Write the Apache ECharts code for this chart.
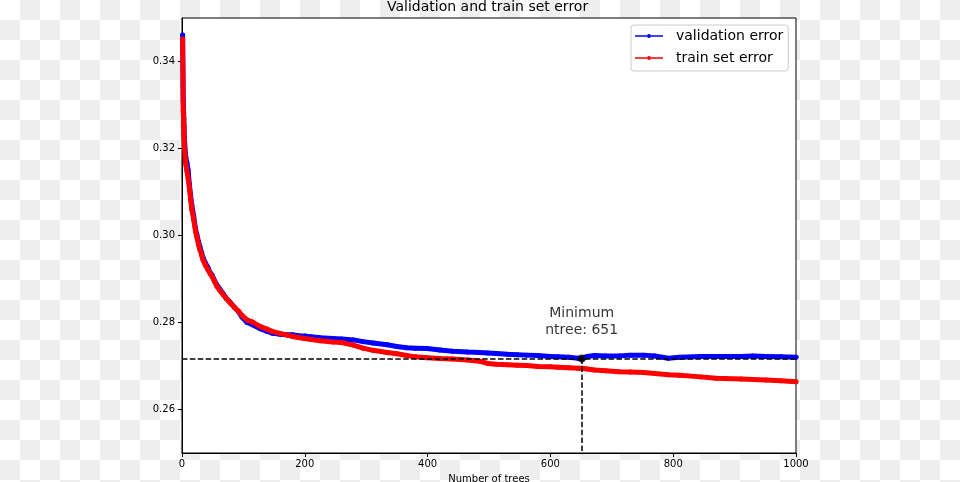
<!DOCTYPE html>
<html>
<head>
<meta charset="utf-8">
<script src="https://cdn.jsdelivr.net/npm/echarts@6/dist/echarts.min.js"></script>
<style>
  html, body { margin: 0; padding: 0; }
  body {
    width: 960px; height: 482px;
    background-color: #ffffff;
    background-image: conic-gradient(#eeeeee 0 25%, #ffffff 0 50%, #eeeeee 0 75%, #ffffff 0);
    background-size: 40px 40px;
  }
  #chart { width: 960px; height: 482px; }
</style>
</head>
<body>
<div id="chart"></div>
<script>
// ---- data ----
const trees = [1,2,3,4,6,8,10,12,14,16,19,22,24,27,29,32,34,38,42,46,49,53,57,62,67,72,78,86,92,98,106,115,127,138,148,160,171,180,192,200,210,225,246,260,279,295,311,334,350,366,380,399,420,441,465,485,498,512,530,546,562,579,600,612,630,645,651,660,672,690,712,730,752,770,792,810,845,870,911,930,951,975,1000];
const validationError = [0.3461,0.3310,0.3269,0.3221,0.3182,0.3167,0.3150,0.3118,0.3092,0.3070,0.3045,0.3015,0.3003,0.2985,0.2975,0.2960,0.2950,0.2937,0.2927,0.2914,0.2909,0.2896,0.2886,0.2876,0.2866,0.2856,0.2847,0.2834,0.2825,0.2812,0.2800,0.2795,0.2786,0.2780,0.2775,0.2773,0.2772,0.2772,0.2769,0.2769,0.2767,0.2765,0.2763,0.2762,0.2760,0.2756,0.2753,0.2749,0.2745,0.2742,0.2741,0.2740,0.2737,0.2734,0.2732,0.2731,0.2730,0.2729,0.2727,0.2726,0.2725,0.2724,0.2722,0.2721,0.2720,0.2718,0.2717,0.2722,0.2724,0.2723,0.2723,0.2725,0.2725,0.2723,0.2718,0.2720,0.2722,0.2722,0.2722,0.2723,0.2722,0.2721,0.2720];
const trainError = [0.3452,0.3287,0.3251,0.3202,0.3165,0.3148,0.3131,0.3110,0.3083,0.3060,0.3037,0.3010,0.2998,0.2978,0.2968,0.2955,0.2945,0.2932,0.2922,0.2912,0.2906,0.2894,0.2883,0.2873,0.2864,0.2855,0.2846,0.2834,0.2826,0.2816,0.2806,0.2801,0.2791,0.2785,0.2779,0.2775,0.2771,0.2768,0.2765,0.2763,0.2761,0.2758,0.2755,0.2754,0.2748,0.2741,0.2736,0.2731,0.2728,0.2724,0.2721,0.2719,0.2717,0.2716,0.2714,0.2711,0.2706,0.2704,0.2703,0.2702,0.2701,0.2699,0.2698,0.2697,0.2696,0.2695,0.2695,0.2693,0.2691,0.2689,0.2687,0.2686,0.2685,0.2683,0.2680,0.2679,0.2675,0.2672,0.2670,0.2669,0.2668,0.2666,0.2664];
const minTree = 651;
const minError = 0.2717;
const xTicks = [0, 200, 400, 600, 800, 1000];
const yTicks = [0.26, 0.28, 0.30, 0.32, 0.34];
const seriesNames = ['validation error', 'train set error'];
const titleText = 'Validation and train set error';
const xAxisName = 'Number of trees';
const annotationText = 'Minimum\nntree: ' + minTree;

// ---- chart ----
const FONT = 'DejaVu Sans';
const chart = echarts.init(document.getElementById('chart'), null, { renderer: 'canvas' });
const legendIcon = 'path://M0,1.2 L12,1.2 L12,2.8 L0,2.8 Z M16,1.2 L28,1.2 L28,2.8 L16,2.8 Z M12,2 A2,2 0 1,1 16,2 A2,2 0 1,1 12,2 Z';

const option = {
  animation: false,
  backgroundColor: 'transparent',
  textStyle: { fontFamily: FONT },
  title: {
    text: titleText,
    left: 387, top: 0, padding: 0,
    textStyle: { fontFamily: FONT, fontSize: 14, fontWeight: 'normal', color: '#000', lineHeight: 15 }
  },
  legend: {
    data: seriesNames.map(n => ({ name: n, icon: legendIcon })),
    orient: 'vertical',
    left: 631, top: 25,
    padding: [3, 5, 5, 4],
    itemGap: 6,
    itemWidth: 28, itemHeight: 4,
    backgroundColor: '#fff',
    borderColor: '#cccccc', borderWidth: 1, borderRadius: 3,
    textStyle: { fontFamily: FONT, fontSize: 14, color: '#000', lineHeight: 16, padding: [0, 0, 0, 8] }
  },
  grid: {
    left: 182, right: 164, top: 18, bottom: 29,
    outerBoundsMode: 'none', containLabel: false,
    show: true, backgroundColor: '#ffffff', borderColor: '#000', borderWidth: 1
  },
  xAxis: {
    type: 'value', min: 0, max: 1000, interval: 200,
    name: xAxisName, nameLocation: 'middle', nameGap: 21,
    nameTextStyle: { fontFamily: FONT, fontSize: 10, color: '#000' },
    axisLine: { show: true, lineStyle: { color: '#000', width: 1 } },
    axisTick: { show: true, length: 4, lineStyle: { color: '#000' }, customValues: xTicks },
    axisLabel: { fontFamily: FONT, fontSize: 10, color: '#000', margin: 6, customValues: xTicks,
                 formatter: v => String(v) },
    splitLine: { show: false }
  },
  yAxis: {
    type: 'value', min: 0.25, max: 0.35, interval: 0.01,
    axisLine: { show: true, lineStyle: { color: '#000', width: 1 } },
    axisTick: { show: true, length: 4, lineStyle: { color: '#000' }, customValues: yTicks },
    axisLabel: { fontFamily: FONT, fontSize: 10, color: '#000', margin: 7, customValues: yTicks,
                 formatter: v => v.toFixed(2) },
    splitLine: { show: false }
  },
  series: [
    {
      name: seriesNames[0], type: 'line',
      data: trees.map((t, i) => [t, validationError[i]]),
      color: '#0000ff',
      symbol: 'circle', symbolSize: 5, showSymbol: true,
      lineStyle: { width: 5, color: '#0000ff', join: 'round', cap: 'round' },
      itemStyle: { color: '#0000ff' },
      z: 2
    },
    {
      name: seriesNames[1], type: 'line',
      data: trees.map((t, i) => [t, trainError[i]]),
      color: '#ff0000',
      symbol: 'circle', symbolSize: 5, showSymbol: true,
      lineStyle: { width: 5, color: '#ff0000', join: 'round', cap: 'round' },
      itemStyle: { color: '#ff0000' },
      z: 3
    },
    {
      name: 'minimum', type: 'scatter',
      data: [[minTree, minError]],
      symbol: 'circle', symbolSize: 8,
      itemStyle: { color: '#000' },
      z: 5,
      label: {
        show: true, position: 'top', distance: 16,
        formatter: annotationText,
        fontFamily: FONT, fontSize: 14, lineHeight: 17, color: '#000', align: 'center'
      },
      markLine: {
        silent: true, symbol: 'none', animation: false,
        label: { show: false },
        lineStyle: { color: '#000', width: 1.5, type: [5.5, 2.4] },
        data: [
          [{ coord: [0, minError] }, { coord: [1000, minError] }],
          [{ coord: [minTree, minError] }, { coord: [minTree, 0.25] }]
        ]
      }
    }
  ]
};
chart.setOption(option);
</script>
</body>
</html>
